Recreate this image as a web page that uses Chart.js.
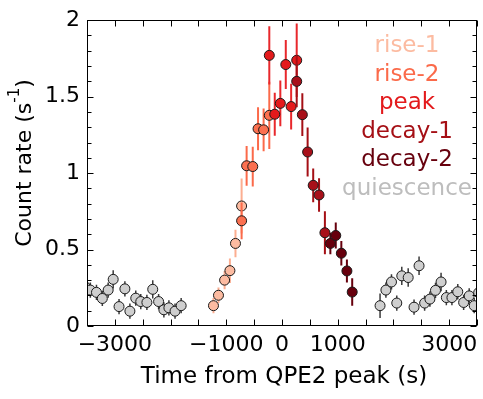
<!DOCTYPE html>
<html>
<head>
<meta charset="utf-8">
<script src="https://cdn.jsdelivr.net/npm/chart.js@4.4.1/dist/chart.umd.min.js"></script>
<style>
  html, body { margin: 0; padding: 0; background: #fff; }
</style>
</head>
<body>
<canvas id="qpeChart" width="483" height="399"></canvas>
<script>
// quiescence (both sides of the flare)
const quiTime = [-3540, -3440, -3330, -3225, -3120, -3030, -2925, -2820, -2730, -2625, -2535, -2425, -2320, -2215, -2120, -2030, -1920, -1810,
                 1760, 1865, 1965, 2060, 2150, 2265, 2370, 2460, 2560, 2655, 2755, 2855, 2950, 3050, 3155, 3260, 3360, 3450, 3530];
const quiRate = [0.26, 0.235, 0.22, 0.18, 0.235, 0.305, 0.127, 0.243, 0.097, 0.182, 0.16, 0.154, 0.24, 0.16, 0.106, 0.119, 0.097, 0.133,
                 0.133, 0.235, 0.288, 0.15, 0.328, 0.317, 0.123, 0.394, 0.15, 0.176, 0.233, 0.288, 0.186, 0.186, 0.224, 0.154, 0.197, 0.133, 0.218];
const quiErr  = [0.05, 0.05, 0.05, 0.05, 0.05, 0.06, 0.05, 0.05, 0.05, 0.05, 0.05, 0.05, 0.06, 0.05, 0.05, 0.05, 0.05, 0.05,
                 0.08, 0.05, 0.05, 0.05, 0.06, 0.06, 0.05, 0.06, 0.05, 0.05, 0.05, 0.06, 0.05, 0.05, 0.05, 0.05, 0.05, 0.05, 0.05];

const rise1Time = [-1230, -1140, -1030, -935, -835, -725];
const rise1Rate = [0.133, 0.201, 0.30, 0.362, 0.54, 0.785];
const rise1Err  = [0.05, 0.05, 0.06, 0.08, 0.09, 0.18];

const rise2Time = [-725, -635, -525, -430, -330, -228];
const rise2Rate = [0.688, 1.048, 1.043, 1.29, 1.283, 1.378];
const rise2Err  = [0.12, 0.13, 0.13, 0.14, 0.14, 0.22];

const peakTime = [-228, -130, -30, 68, 164, 264];
const peakRate = [1.77, 1.385, 1.456, 1.71, 1.435, 1.738];
const peakErr  = [0.19, 0.14, 0.15, 0.16, 0.15, 0.24];

const decay1Time = [264, 365, 460, 560, 665, 770];
const decay1Rate = [1.6, 1.382, 1.138, 0.92, 0.857, 0.61];
const decay1Err  = [0.17, 0.14, 0.16, 0.11, 0.11, 0.14];

const decay2Time = [868, 965, 1065, 1165, 1260];
const decay2Rate = [0.54, 0.592, 0.476, 0.36, 0.222];
const decay2Err  = [0.07, 0.085, 0.08, 0.075, 0.09];

const xTickLabels = [-3000, -1000, 0, 1000, 3000];
const yTickLabels = [0, 0.5, 1, 1.5, 2];
const legendLabels = ["rise-1", "rise-2", "peak", "decay-1", "decay-2", "quiescence"];
const legendColors = ["#fcbba1", "#fb6a4a", "#e31a1c", "#a50f15", "#67000d", "#bdbdbd"];

function points(t, r, e) {
    return t.map((v, i) => ({ x: v, y: r[i], e: e[i] }));
}

function makeSet(label, t, r, e, fill, bar, barWidth, order) {
    return {
        label: label,
        data: points(t, r, e),
        backgroundColor: fill,
        borderColor: "#1a1a1a",
        borderWidth: 1,
        pointRadius: 5,
        barColor: bar,
        barWidth: barWidth,
        order: order
    };
}

const FONT = "'DejaVu Sans', sans-serif";

const errorBarPlugin = {
    id: "errorBars",
    beforeDatasetDraw(chart, args) {
        const ds = chart.data.datasets[args.index];
        const x = chart.scales.x, y = chart.scales.y;
        const ctx = chart.ctx, a = chart.chartArea;
        ctx.save();
        ctx.beginPath();
        ctx.rect(a.left, a.top, a.right - a.left, a.bottom - a.top);
        ctx.clip();
        ctx.strokeStyle = ds.barColor;
        ctx.lineWidth = ds.barWidth;
        ds.data.forEach(function (p) {
            const px = x.getPixelForValue(p.x);
            ctx.beginPath();
            ctx.moveTo(px, y.getPixelForValue(p.y - p.e));
            ctx.lineTo(px, y.getPixelForValue(p.y + p.e));
            ctx.stroke();
        });
        ctx.restore();
    }
};

const framePlugin = {
    id: "frame",
    afterDraw(chart) {
        const ctx = chart.ctx, a = chart.chartArea;
        const x = chart.scales.x, y = chart.scales.y;
        const L = Math.floor(a.left) + 0.5, R = Math.floor(a.right) - 0.5;
        const T = Math.floor(a.top) + 0.5, B = Math.floor(a.bottom) - 0.5;
        ctx.save();
        ctx.strokeStyle = "#000";
        ctx.lineWidth = 1;
        ctx.strokeRect(L, T, R - L, B - T);

        ctx.beginPath();
        // x ticks, every 500 s, inward top and bottom
        for (let t = x.min; t <= x.max; t += 500) {
            const px = Math.round(x.getPixelForValue(t)) + 0.5;
            ctx.moveTo(px, B); ctx.lineTo(px, B - 6);
            ctx.moveTo(px, T); ctx.lineTo(px, T + 6);
        }
        // y ticks, minor every 0.1, major every 0.5
        for (let k = 0; k <= 20; k++) {
            const v = k / 10;
            const len = (k % 5 === 0) ? 6 : 4;
            const py = Math.round(y.getPixelForValue(v)) + 0.5;
            ctx.moveTo(L, py); ctx.lineTo(L + len, py);
            ctx.moveTo(R, py); ctx.lineTo(R - len, py);
        }
        ctx.stroke();

        // group labels
        ctx.font = "23px " + FONT;
        ctx.textAlign = "center";
        ctx.textBaseline = "alphabetic";
        legendLabels.forEach(function (lab, i) {
            ctx.fillStyle = legendColors[i];
            ctx.fillText(lab, 407, 52 + 28.5 * i);
        });

        // axis titles
        ctx.fillStyle = "#000";
        ctx.font = "23px " + FONT;
        ctx.fillText("Time from QPE2 peak (s)", 284, 383);

        const main = "Count rate (s", sup = "-1", close = ")";
        ctx.font = "22px " + FONT;
        const w1 = ctx.measureText(main).width;
        const w3 = ctx.measureText(close).width;
        ctx.font = "15px " + FONT;
        const w2 = ctx.measureText(sup).width;
        const total = w1 + w2 + w3;
        ctx.translate(31, 163 + total / 2);
        ctx.rotate(-Math.PI / 2);
        ctx.textAlign = "left";
        ctx.font = "22px " + FONT;
        ctx.fillText(main, 0, 0);
        ctx.font = "15px " + FONT;
        ctx.fillText(sup, w1, -12);
        ctx.font = "22px " + FONT;
        ctx.fillText(close, w1 + w2, 0);
        ctx.restore();
    }
};

const ctx = document.getElementById("qpeChart").getContext("2d");

new Chart(ctx, {
    type: "scatter",
    data: {
        datasets: [
            makeSet("quiescence", quiTime, quiRate, quiErr, "#cfcfcf", "#3a3a3a", 1.5, 6),
            makeSet("rise-1", rise1Time, rise1Rate, rise1Err, "#fcbba1", "#fcae91", 2, 5),
            makeSet("rise-2", rise2Time, rise2Rate, rise2Err, "#fb7050", "#fb6a4a", 2, 4),
            makeSet("peak", peakTime, peakRate, peakErr, "#e41a1c", "#e8282c", 2, 3),
            makeSet("decay-1", decay1Time, decay1Rate, decay1Err, "#a8101a", "#a50f15", 2, 2),
            makeSet("decay-2", decay2Time, decay2Rate, decay2Err, "#67000d", "#67000d", 2, 1)
        ]
    },
    options: {
        responsive: false,
        animation: false,
        devicePixelRatio: 1,
        layout: { padding: { left: 0, right: 4, top: 11, bottom: 0 } },
        plugins: {
            legend: { display: false },
            tooltip: { enabled: false }
        },
        scales: {
            x: {
                type: "linear",
                min: -3500,
                max: 3500,
                grid: { display: false, drawTicks: false },
                border: { display: false },
                ticks: {
                    stepSize: 500,
                    autoSkip: false,
                    maxRotation: 0,
                    padding: 6,
                    color: "#000",
                    font: { family: FONT, size: 22 },
                    callback: function (value) {
                        if (!xTickLabels.includes(value)) return "";
                        return value < 0 ? "\u2212" + Math.abs(value) : String(value);
                    }
                },
                afterFit: function (scale) { scale.height = 73; }
            },
            y: {
                type: "linear",
                min: 0,
                max: 2,
                grid: { display: false, drawTicks: false },
                border: { display: false },
                ticks: {
                    stepSize: 0.5,
                    padding: 7,
                    color: "#000",
                    font: { family: FONT, size: 22 },
                    callback: function (value) {
                        return yTickLabels.includes(value) ? String(value) : "";
                    }
                },
                afterFit: function (scale) { scale.width = 87; }
            }
        }
    },
    plugins: [errorBarPlugin, framePlugin]
});
</script>
</body>
</html>
